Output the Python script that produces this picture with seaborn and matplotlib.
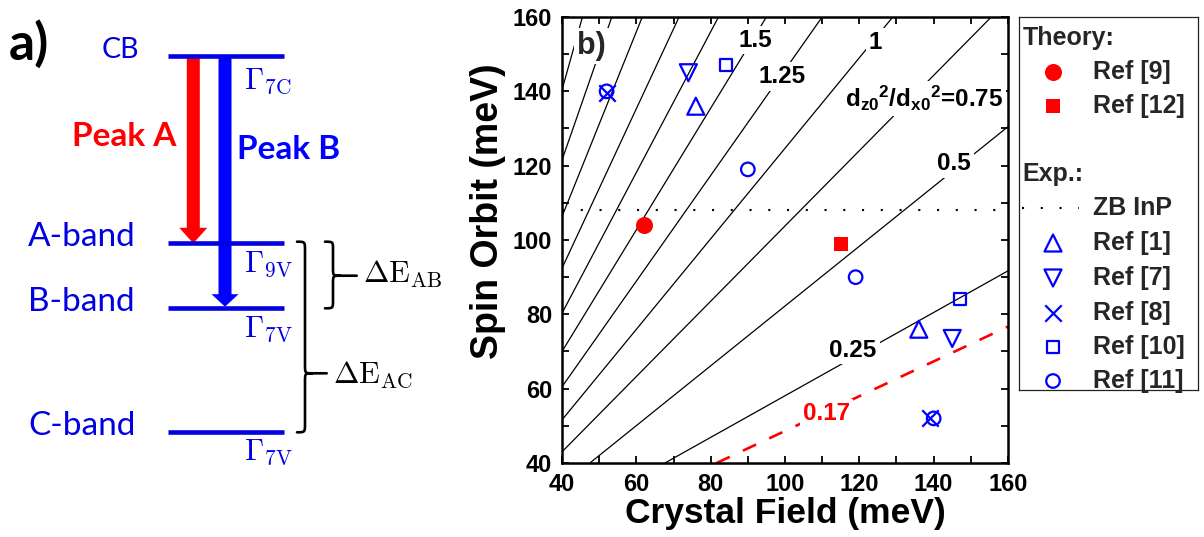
import numpy as np
import pandas as pd
import matplotlib
matplotlib.use("Agg")
import matplotlib.pyplot as plt
import seaborn as sns
from matplotlib.patches import FancyArrow, PathPatch
from matplotlib.path import Path
from matplotlib.ticker import MultipleLocator

# ------------------------------------------------------------------ data
# Theory points (crystal field, spin orbit) in meV
ref9_cf = [62]
ref9_so = [104]
ref12_cf = [115]
ref12_so = [99]
# Experimental points
ref1_cf = [76, 136]
ref1_so = [136, 76]
ref7_cf = [74, 145]
ref7_so = [145, 73.5]
ref8_cf = [52, 139]
ref8_so = [139.5, 52]
ref10_cf = [84, 147]
ref10_so = [147, 84]
ref11_cf = [52, 90, 119, 140]
ref11_so = [140, 119, 90, 52]
zb_inp_so = 108

# Iso-lines of d_z0^2/d_x0^2 : end points where each line meets the frame
contour_levels = [0.17, 0.25, 0.5, 0.75, 1, 1.25, 1.5, 1.75, 2, 2.25, 2.5, 2.75]
contour_x0 = [81.6, 67.7, 47.5, 40, 40, 40, 40, 40, 40, 40, 40, 40]
contour_y0 = [40, 40, 40, 43.0, 51.6, 60.5, 70.0, 80.3, 92.4, 106.3, 121.5, 140.4]
contour_x1 = [160, 160, 160, 155.5, 129, 110, 95, 82.1, 71.5, 61.6, 53.4, 45.5]
contour_y1 = [76.7, 91.7, 130.5, 160, 160, 160, 160, 160, 160, 160, 160, 160]

contour_label_text = ["0.17", "0.25", "0.5",
                      r"$\mathbf{d_{z0}{}^{2}/d_{x0}{}^{2}}$=0.75",
                      "1", "1.25", "1.5"]

x_ticks = [40, 60, 80, 100, 120, 140, 160]
y_ticks = [40, 60, 80, 100, 120, 140, 160]

band_names = ["CB", "A-band", "B-band", "C-band"]
band_symbols = [r"$\Gamma_{7\mathrm{C}}$", r"$\Gamma_{9\mathrm{V}}$",
                r"$\Gamma_{7\mathrm{V}}$", r"$\Gamma_{7\mathrm{V}}$"]

# ------------------------------------------------------------------ style
sns.set_theme(style="ticks")
plt.rcParams['font.family'] = ['Liberation Sans', 'DejaVu Sans']
plt.rcParams['mathtext.fontset'] = 'custom'
plt.rcParams['mathtext.rm'] = 'Liberation Sans'
plt.rcParams['mathtext.bf'] = 'Liberation Sans:bold'
plt.rcParams['mathtext.it'] = 'Liberation Sans:italic'
plt.rcParams['mathtext.sf'] = 'Liberation Sans'

W, H = 1204, 537
fig = plt.figure(figsize=(W / 100, H / 100), dpi=100)
fig.patch.set_facecolor("white")

RED = "#ff0000"
BLUE = "#0000ff"
LBLUE = "#0000e0"

# ================================================================ panel a
axa = fig.add_axes([0, 0, 470 / W, 1])
axa.set_xlim(0, 470)
axa.set_ylim(H, 0)
axa.axis("off")

level_y = [55.5, 243.3, 308.3, 432.3]
axa.hlines(level_y, 168, 284, color=LBLUE, lw=3.3)

lato = ['Lato', 'DejaVu Sans']
axa.text(9, 60, "a)", fontsize=37, fontweight="bold", family=lato,
         ha="left", va="baseline", color="black")
name_x = [101.7, 28, 28, 28]
name_size = [20.5, 24, 24, 24]
for nm, yy, xx, fs in zip(band_names, level_y, name_x, name_size):
    axa.text(xx, yy + 2.5, nm, fontsize=fs, family=lato, color=LBLUE,
             ha="left", va="baseline")

sym_base = [88.4, 271.7, 336.7, 460]
for sym, yb in zip(band_symbols, sym_base):
    axa.text(244, yb, sym, fontsize=22, color=LBLUE, ha="left",
             va="baseline", math_fontfamily="cm")

axa.add_patch(FancyArrow(193.3, 56, 0, 243.3 - 56, width=13, head_width=28,
                         head_length=15.5, length_includes_head=True,
                         color=RED, lw=0))
axa.add_patch(FancyArrow(225, 56, 0, 306.7 - 56, width=13, head_width=27,
                         head_length=12.5, length_includes_head=True,
                         color=BLUE, lw=0))
axa.text(71.7, 145.6, "Peak A", fontsize=24, fontweight="bold", family=lato,
         color=RED, ha="left", va="baseline")
axa.text(236.7, 159.4, "Peak B", fontsize=24, fontweight="bold", family=lato,
         color=BLUE, ha="left", va="baseline")


def brace(ax, x0, xm, xc, y_top, y_cusp, y_bot, x_end, r=9):
    verts = [(x0, y_top), (xm, y_top), (xm, y_top), (xm, y_top + r),
             (xm, y_cusp - r),
             (xm, y_cusp), (xm, y_cusp), (xc, y_cusp),
             (xm, y_cusp), (xm, y_cusp), (xm, y_cusp + r),
             (xm, y_bot - r),
             (xm, y_bot), (xm, y_bot), (x0, y_bot),
             (xc, y_cusp), (x_end, y_cusp)]
    codes = [Path.MOVETO, Path.CURVE4, Path.CURVE4, Path.CURVE4,
             Path.LINETO,
             Path.CURVE4, Path.CURVE4, Path.CURVE4,
             Path.CURVE4, Path.CURVE4, Path.CURVE4,
             Path.LINETO,
             Path.CURVE4, Path.CURVE4, Path.CURVE4,
             Path.MOVETO, Path.LINETO]
    ax.add_patch(PathPatch(Path(verts, codes), fc="none", ec="black", lw=1.9,
                           capstyle="round", joinstyle="round"))


brace(axa, 325, 333, 340, 241.7, 275.7, 308.3, 356.7, r=8)
brace(axa, 297, 305, 312, 241.7, 373.3, 432.3, 326.7, r=9)
axa.text(363, 283.3, r"$\Delta\mathrm{E}_{\mathrm{AB}}$", fontsize=22,
         color="black", ha="left", va="baseline", math_fontfamily="cm")
axa.text(333, 383.3, r"$\Delta\mathrm{E}_{\mathrm{AC}}$", fontsize=22,
         color="black", ha="left", va="baseline", math_fontfamily="cm")

# ================================================================ panel b
ax = fig.add_axes([562 / W, (H - 463) / H, 446 / W, 446 / H])
ax.set_facecolor("white")

for lev, x0, y0, x1, y1 in zip(contour_levels, contour_x0, contour_y0,
                               contour_x1, contour_y1):
    if lev == 0.17:
        ax.plot([x0, x1], [y0, y1], color=RED, lw=1.9,
                ls=(0, (5.5, 5.5)), zorder=2)
    else:
        ax.plot([x0, x1], [y0, y1], color="black", lw=0.9, zorder=2)

ax.axhline(zb_inp_so, color="black", lw=1.5, ls=(0, (1, 8)), zorder=2)

label_pos = [(111.2, 53.4), (118.3, 70.4), (145.5, 120.5), (137.4, 138.0),
             (124.3, 153.1), (99.3, 143.9), (92.1, 153.8)]
for txt, (lx, ly) in zip(contour_label_text, label_pos):
    col = RED if txt == "0.17" else "black"
    ax.text(lx, ly, txt, fontsize=17.5, fontweight="bold", color=col,
            ha="center", va="center", zorder=4,
            bbox=dict(boxstyle="square,pad=0.12", fc="white", ec="none"))

ax.text(44.0, 152.2, "b)", fontsize=22, fontweight="bold", ha="left",
        va="center", zorder=4,
        bbox=dict(boxstyle="square,pad=0.1", fc="white", ec="none"))

mk_lw = 1.6
sns.scatterplot(x=ref9_cf, y=ref9_so, marker="o", s=150, color=RED,
                edgecolor=RED, linewidth=0, ax=ax, zorder=5, legend=False)
sns.scatterplot(x=ref12_cf, y=ref12_so, marker="s", s=100, color=RED,
                edgecolor=RED, linewidth=0, ax=ax, zorder=5, legend=False)
sns.scatterplot(x=ref1_cf, y=ref1_so, marker="^", s=150, facecolor="none",
                edgecolor=BLUE, linewidth=mk_lw, ax=ax, zorder=5, legend=False)
sns.scatterplot(x=ref7_cf, y=ref7_so, marker="v", s=150, facecolor="none",
                edgecolor=BLUE, linewidth=mk_lw, ax=ax, zorder=5, legend=False)
sns.scatterplot(x=ref8_cf, y=ref8_so, marker="x", s=140, color=BLUE,
                linewidth=mk_lw, ax=ax, zorder=5, legend=False)
sns.scatterplot(x=ref10_cf, y=ref10_so, marker="s", s=75, facecolor="none",
                edgecolor=BLUE, linewidth=mk_lw, ax=ax, zorder=5, legend=False)
sns.scatterplot(x=ref11_cf, y=ref11_so, marker="o", s=95, facecolor="none",
                edgecolor=BLUE, linewidth=mk_lw, ax=ax, zorder=5, legend=False)

ax.set_xlim(40, 160)
ax.set_ylim(40, 160)
ax.set_xticks(x_ticks)
ax.set_yticks(y_ticks)
ax.xaxis.set_minor_locator(MultipleLocator(10))
ax.yaxis.set_minor_locator(MultipleLocator(10))
ax.tick_params(which="both", direction="in", top=True, right=True,
               length=5, width=1.3, color="black")
ax.tick_params(which="major", labelsize=17, pad=7, labelcolor="black")
for lab in ax.get_xticklabels() + ax.get_yticklabels():
    lab.set_fontweight("bold")
for sp in ax.spines.values():
    sp.set_linewidth(1.8)
    sp.set_color("black")
    sp.set_visible(True)
ax.set_xlabel("Crystal Field (meV)", fontsize=25.5, fontweight="bold",
              labelpad=1, color="black")
ax.set_ylabel("Spin Orbit (meV)", fontsize=27, fontweight="bold",
              color="black")
ax.yaxis.set_label_coords(-0.125, 0.565)
ax.grid(False)

# ================================================================ legend
lx0, lx1, ly0, ly1 = 1019, 1198, 17, 390
axl = fig.add_axes([lx0 / W, (H - ly1) / H, (lx1 - lx0) / W, (ly1 - ly0) / H])
axl.set_xlim(lx0, lx1)
axl.set_ylim(ly1, ly0)
axl.set_xticks([])
axl.set_yticks([])
axl.set_facecolor("white")
for sp in axl.spines.values():
    sp.set_linewidth(0.9)
    sp.set_color("#222222")
    sp.set_visible(True)

mx, tx, hx = 1053, 1093, 1022.5
fs_leg = 18
axl.text(hx, 37.6, "Theory:", fontsize=fs_leg, fontweight="bold",
         ha="left", va="center")
axl.text(hx, 174, "Exp.:", fontsize=fs_leg, fontweight="bold",
         ha="left", va="center")
entries = [("Ref [9]", 71.7, dict(marker="o", s=150, color=RED, linewidths=0)),
           ("Ref [12]", 106, dict(marker="s", s=100, color=RED, linewidths=0)),
           ("Ref [1]", 243, dict(marker="^", s=150, facecolors="none",
                                 edgecolors=BLUE, linewidths=mk_lw)),
           ("Ref [7]", 278, dict(marker="v", s=150, facecolors="none",
                                 edgecolors=BLUE, linewidths=mk_lw)),
           ("Ref [8]", 312.6, dict(marker="x", s=140, color=BLUE,
                                   linewidths=mk_lw)),
           ("Ref [10]", 346.8, dict(marker="s", s=75, facecolors="none",
                                    edgecolors=BLUE, linewidths=mk_lw)),
           ("Ref [11]", 381, dict(marker="o", s=95, facecolors="none",
                                  edgecolors=BLUE, linewidths=mk_lw))]
for lab, yy, kw in entries:
    axl.scatter([mx], [yy], clip_on=False, **kw)
    axl.text(tx, yy, lab, fontsize=fs_leg, fontweight="bold",
             ha="left", va="center")
axl.plot([1021.5, 1079], [208, 208], color="black", lw=1.5, ls=(0, (1, 8)))
axl.text(tx, 208, "ZB InP", fontsize=fs_leg, fontweight="bold",
         ha="left", va="center")

fig.savefig("out.png", dpi=100, facecolor="white")
